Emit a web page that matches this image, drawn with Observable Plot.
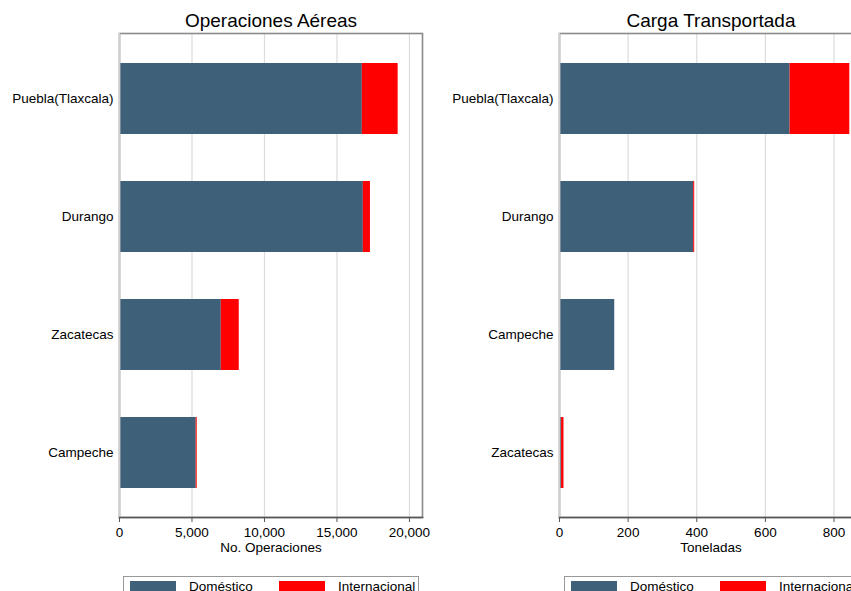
<!DOCTYPE html>
<html>
<head>
<meta charset="utf-8">
<script src="https://cdn.jsdelivr.net/npm/d3@7"></script>
<script src="https://cdn.jsdelivr.net/npm/@observablehq/plot@0.6"></script>
<style>
  html, body { margin: 0; padding: 0; background: #fff; }
  #wrap { position: relative; width: 851px; height: 591px; overflow: hidden; font-family: "Liberation Sans", Arial, Helvetica, sans-serif; color: #000; }
  .panel { position: absolute; top: 0; }
  .legend { position: absolute; top: 576px; height: 40px; border: 1px solid #999; box-sizing: border-box; background: #fff; }
  .sw { position: absolute; top: 4px; width: 46px; height: 20px; }
  .lt { position: absolute; top: 2px; font-size: 13.5px; line-height: 15px; white-space: nowrap; }
</style>
</head>
<body>
<div id="wrap"></div>
<script>
// ---- data ----
const tipos = ["Doméstico", "Internacional"];
const colores = ["#3e6079", "#ff0000"];

const opsCats = ["Puebla(Tlaxcala)", "Durango", "Zacatecas", "Campeche"];
const opsDom  = [16750, 16820, 7020, 5290];
const opsInt  = [2470, 490, 1240, 70];
const opsTicks = [0, 5000, 10000, 15000, 20000];

const cargaCats = ["Puebla(Tlaxcala)", "Durango", "Campeche", "Zacatecas"];
const cargaDom  = [672, 391, 161, 6];
const cargaInt  = [174, 3, 0, 7];
const cargaTicks = [0, 200, 400, 600, 800];

function rows(cats, dom, intl) {
  const out = [];
  cats.forEach((c, i) => {
    out.push({cat: c, tipo: tipos[0], value: dom[i]});
    out.push({cat: c, tipo: tipos[1], value: intl[i]});
  });
  return out;
}

function panel({cats, data, ticks, xmax, title, xlabel}) {
  return Plot.plot({
    width: 440,
    height: 560,
    marginLeft: 119,
    marginRight: 18,
    marginTop: 33,
    marginBottom: 43,
    style: {fontSize: "13px", fontFamily: "'Liberation Sans', Arial, Helvetica, sans-serif", color: "#000", background: "transparent", overflow: "visible"},
    x: {domain: [0, xmax], ticks: ticks, tickFormat: d3.format(","), label: null},
    y: {domain: cats, paddingInner: 0.4, paddingOuter: 0.245, label: null},
    color: {domain: tipos, range: colores},
    marks: [
      Plot.gridX(ticks, {stroke: "#dcdcdc", strokeOpacity: 1, strokeWidth: 1.2}),
      Plot.barX(data, Plot.stackX({x: "value", y: "cat", fill: "tipo", order: tipos, inset: 0})),
      Plot.frame({stroke: "#8a8a8a", strokeWidth: 1.6}),
      Plot.ruleX([0], {stroke: "#cfcfcf", strokeWidth: 1.6}),
      Plot.frame({anchor: "bottom", stroke: "#555", strokeWidth: 1.6}),
      Plot.axisX({ticks: ticks, tickFormat: d3.format(","), tickSize: 5, tickPadding: 5, stroke: "#555", fill: "#000", fontSize: 13.5, label: null}),
      Plot.axisY({tickSize: 0, tickPadding: 6, fill: "#000", fontSize: 13.5, label: null}),
      Plot.text([title], {frameAnchor: "top", lineAnchor: "middle", dy: -13, fontSize: 19, fill: "#000"}),
      Plot.text([xlabel], {frameAnchor: "bottom", lineAnchor: "middle", dy: 30, fontSize: 13.5, fill: "#000"})
    ]
  });
}

const wrap = document.getElementById("wrap");

const left = panel({
  cats: opsCats, data: rows(opsCats, opsDom, opsInt), ticks: opsTicks, xmax: 20900,
  title: "Operaciones Aéreas", xlabel: "No. Operaciones"
});
left.classList.add("panel");
left.style.left = "0px";
wrap.appendChild(left);

const right = panel({
  cats: cargaCats, data: rows(cargaCats, cargaDom, cargaInt), ticks: cargaTicks, xmax: 883,
  title: "Carga Transportada", xlabel: "Toneladas"
});
right.classList.add("panel");
right.style.left = "440px";
wrap.appendChild(right);

function legend(x, w) {
  const box = document.createElement("div");
  box.className = "legend";
  box.style.left = x + "px";
  box.style.width = w + "px";
  const items = [[6, 65], [155, 214]];
  tipos.forEach((t, i) => {
    const sw = document.createElement("div");
    sw.className = "sw";
    sw.style.left = items[i][0] + "px";
    sw.style.background = colores[i];
    box.appendChild(sw);
    const lt = document.createElement("div");
    lt.className = "lt";
    lt.style.left = items[i][1] + "px";
    lt.textContent = t;
    box.appendChild(lt);
  });
  wrap.appendChild(box);
}
legend(123, 296);
legend(564, 296);
</script>
</body>
</html>
